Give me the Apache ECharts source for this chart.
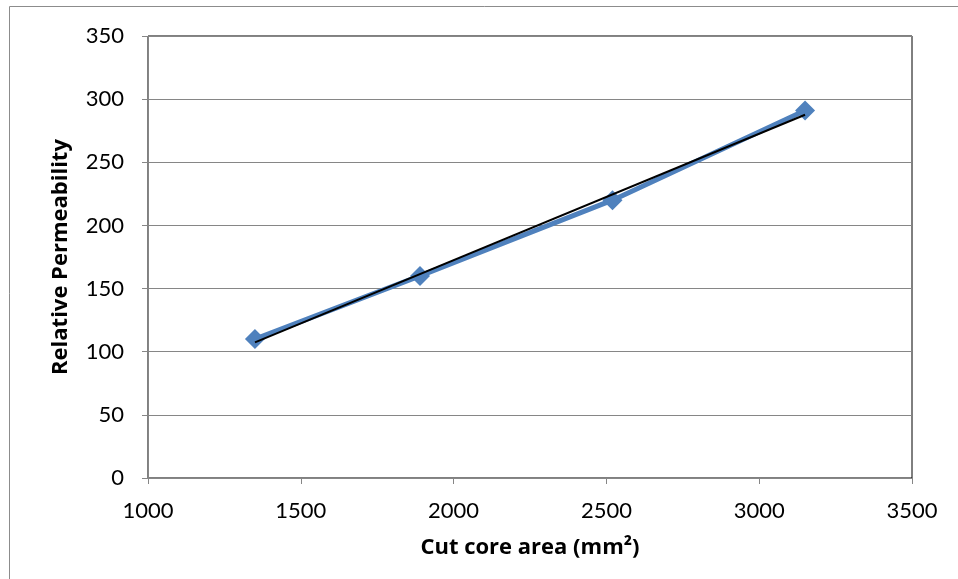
<!DOCTYPE html>
<html>
<head>
<meta charset="utf-8">
<script src="https://cdn.jsdelivr.net/npm/echarts@6/dist/echarts.min.js"></script>
<style>
  html, body { margin: 0; padding: 0; background: #fff; }
  #chart { width: 958px; height: 579px; }
</style>
</head>
<body>
<div id="chart"></div>
<script>
// Cut core area (mm²) vs relative permeability
const coreArea = [1350, 1890, 2520, 3150];
const permeability = [110, 160, 220, 291];

// Axis ranges / ticks
const xTicks = [1000, 1500, 2000, 2500, 3000, 3500];
const yTicks = [0, 50, 100, 150, 200, 250, 300, 350];

// Least-squares linear trendline through the measured points
function linearFit(xs, ys) {
  const n = xs.length;
  const mx = xs.reduce((a, b) => a + b, 0) / n;
  const my = ys.reduce((a, b) => a + b, 0) / n;
  let sxy = 0, sxx = 0;
  for (let i = 0; i < n; i++) {
    sxy += (xs[i] - mx) * (ys[i] - my);
    sxx += (xs[i] - mx) * (xs[i] - mx);
  }
  const slope = sxy / sxx;
  return { slope, intercept: my - slope * mx };
}
const fit = linearFit(coreArea, permeability);
const xFirst = coreArea[0], xLast = coreArea[coreArea.length - 1];
const trend = [
  [xFirst, fit.intercept + fit.slope * xFirst],
  [xLast, fit.intercept + fit.slope * xLast]
];

const FONT = 'Lato, "Liberation Sans", sans-serif';
const TITLE_FONT = '"Open Sans", Lato, sans-serif';
const chart = echarts.init(document.getElementById('chart'), null, { renderer: 'canvas' });

chart.setOption({
  backgroundColor: '#ffffff',
  animation: false,
  graphic: [
    {
      type: 'rect',
      shape: { x: 9.5, y: 6.5, width: 1000, height: 1000 },
      style: { fill: 'none', stroke: '#8c8c8c', lineWidth: 1 },
      z: -1
    }
  ],
  grid: { left: 148, right: 46, top: 36, bottom: 101, show: true, borderColor: '#000', borderWidth: 1 },
  xAxis: {
    type: 'value',
    min: xTicks[0],
    max: xTicks[xTicks.length - 1],
    interval: 500,
    name: 'Cut core area (mm²)',
    nameLocation: 'middle',
    nameGap: 59,
    nameTextStyle: { fontFamily: TITLE_FONT, fontSize: 22, fontWeight: 'bold', color: '#000' },
    axisLine: { show: true, onZero: false, lineStyle: { color: '#868686', width: 1 } },
    axisTick: { show: true, length: 6, lineStyle: { color: '#868686' } },
    axisLabel: { fontFamily: FONT, fontSize: 22, color: '#000', margin: 22, formatter: v => String(v) },
    splitLine: { show: false }
  },
  yAxis: {
    type: 'value',
    min: yTicks[0],
    max: yTicks[yTicks.length - 1],
    interval: 50,
    name: 'Relative Permeability',
    nameLocation: 'middle',
    nameGap: 76,
    nameRotate: 90,
    nameTextStyle: { fontFamily: TITLE_FONT, fontSize: 22, fontWeight: 'bold', color: '#000' },
    axisLine: { show: true, onZero: false, lineStyle: { color: '#868686', width: 1 } },
    axisTick: { show: true, length: 6, lineStyle: { color: '#868686' } },
    axisLabel: { fontFamily: FONT, fontSize: 22, color: '#000', margin: 24, formatter: v => String(v) },
    splitLine: { show: true, lineStyle: { color: '#868686', width: 1 } }
  },
  series: [
    {
      name: 'Relative Permeability',
      type: 'line',
      data: coreArea.map((x, i) => [x, permeability[i]]),
      symbol: 'diamond',
      symbolSize: 20,
      lineStyle: { color: '#4F81BD', width: 5 },
      itemStyle: { color: '#4F81BD' },
      z: 2
    },
    {
      name: 'Linear trend',
      type: 'line',
      data: trend,
      symbol: 'none',
      lineStyle: { color: '#000', width: 2 },
      z: 3
    }
  ]
});
</script>
</body>
</html>
